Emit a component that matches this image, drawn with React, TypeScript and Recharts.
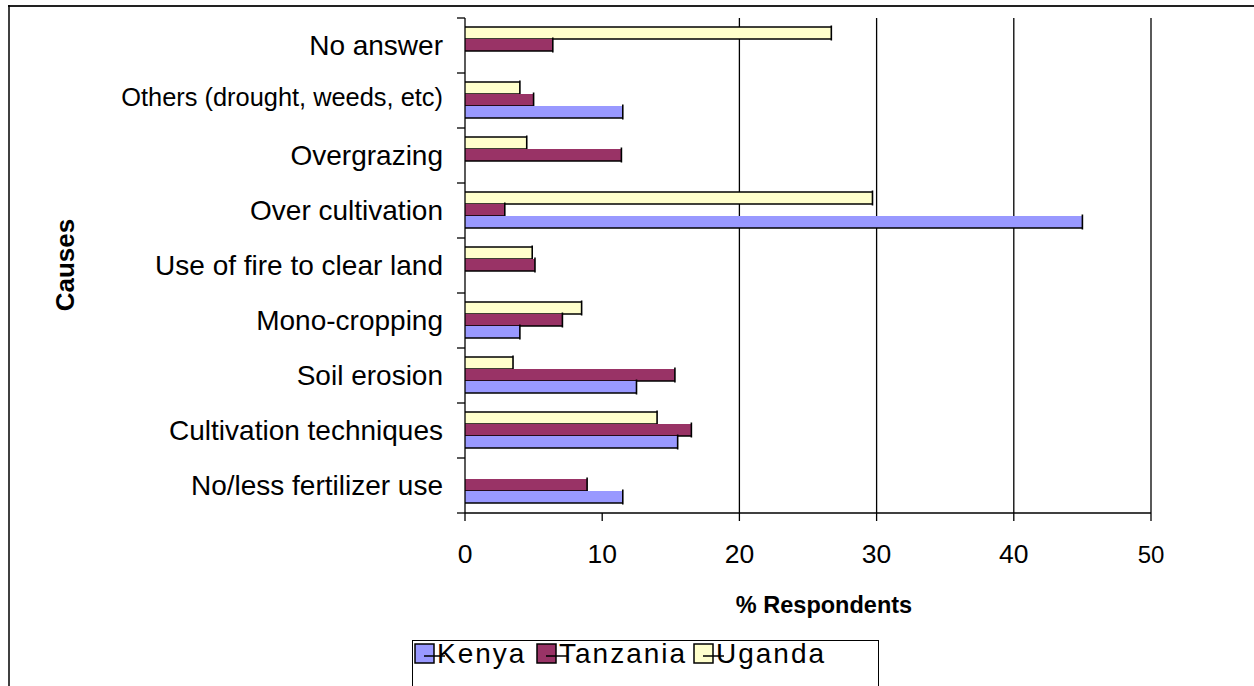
import React from "react";
import { BarChart, Bar, XAxis, YAxis, CartesianGrid } from "recharts";

const categories = [
  "No answer",
  "Others (drought, weeds, etc)",
  "Overgrazing",
  "Over cultivation",
  "Use of fire to clear land",
  "Mono-cropping",
  "Soil erosion",
  "Cultivation techniques",
  "No/less fertilizer use",
];
const kenya = [0, 11.5, 0, 45.0, 0, 4.0, 12.5, 15.5, 11.5];
const tanzania = [6.4, 5.0, 11.4, 2.9, 5.1, 7.1, 15.3, 16.5, 8.9];
const uganda = [26.7, 4.0, 4.5, 29.7, 4.9, 8.5, 3.5, 14.0, 0];
const xTicks = [0, 10, 20, 30, 40, 50];
const gridValues = [20, 30, 40, 50];

const series = [
  { key: "Kenya", values: kenya, color: "#9999FF" },
  { key: "Tanzania", values: tanzania, color: "#993366" },
  { key: "Uganda", values: uganda, color: "#FFFFCC" },
];

const data = categories.map((c, i) => ({
  cat: c,
  Kenya: kenya[i],
  Tanzania: tanzania[i],
  Uganda: uganda[i],
}));

const W = 1254;
const H = 686;
const PLOT_LEFT = 465;
const PLOT_TOP = 18;
const PLOT_RIGHT = 1151;
const PLOT_BOTTOM = 513;
const BAND = (PLOT_BOTTOM - PLOT_TOP) / categories.length;
const FONT = "'Liberation Sans', Arial, sans-serif";

const makeShape = (withTop: boolean) => (props: any) => {
  const { x, y, width, height, fill } = props;
  if (!width || width <= 0) return <g />;
  return (
    <g>
      <rect x={x} y={y} width={width} height={height} fill={fill} />
      {withTop && <line x1={x} x2={x + width} y1={y} y2={y} stroke="#000" strokeWidth={1.5} />}
      <line x1={x} x2={x + width} y1={y + height} y2={y + height} stroke="#000" strokeWidth={1.5} />
      <line x1={x + width} x2={x + width} y1={y - 1.5} y2={y + height + 1.5} stroke="#000" strokeWidth={1.6} />
    </g>
  );
};

const YTick = (props: any) => {
  const { y, payload, index } = props;
  const small = String(payload.value).startsWith("Others");
  return (
    <g>
      <text
        x={PLOT_LEFT - 22}
        y={y + (small ? -3 : 0)}
        dy="0.35em"
        textAnchor="end"
        fontFamily={FONT}
        fontSize={small ? 25.4 : 28}
        fill="#000"
      >
        {payload.value}
      </text>
      <line x1={PLOT_LEFT - 8} x2={PLOT_LEFT} y1={y - BAND / 2} y2={y - BAND / 2} stroke="#000" strokeWidth={1.3} />
      {index === categories.length - 1 && (
        <line x1={PLOT_LEFT - 8} x2={PLOT_LEFT} y1={y + BAND / 2} y2={y + BAND / 2} stroke="#000" strokeWidth={1.3} />
      )}
    </g>
  );
};

const XTick = (props: any) => {
  const { x, payload } = props;
  const last = payload.value === xTicks[xTicks.length - 1];
  return (
    <text
      x={x}
      y={PLOT_BOTTOM + 50}
      textAnchor="middle"
      fontFamily={FONT}
      fontSize={last ? 24 : 26.5}
      fill="#000"
    >
      {payload.value}
    </text>
  );
};

const gridGen = (args: any) => {
  const scale = args && args.xAxis && args.xAxis.scale;
  if (!scale) return [];
  const fn = typeof scale === "function" ? scale : scale.map ? (v: number) => scale.map(v) : null;
  if (!fn) return [];
  return gridValues.map((v) => fn(v));
};

export default function App() {
  const legendX = [415, 537, 694];
  return (
    <div style={{ position: "absolute", left: 0, top: 0, width: W, height: H, background: "#fff", overflow: "hidden" }}>
      <BarChart
        width={W}
        height={H}
        data={data}
        layout="vertical"
        margin={{ top: PLOT_TOP, right: W - PLOT_RIGHT, left: 0, bottom: H - PLOT_BOTTOM - 60 }}
        barCategoryGap={9}
        barGap={0}
      >
        <CartesianGrid
          horizontal={false}
          vertical={true}
          stroke="#000"
          strokeWidth={1.3}
          verticalCoordinatesGenerator={gridGen}
        />
        <XAxis
          type="number"
          domain={[0, 50]}
          ticks={xTicks}
          height={60}
          tick={<XTick />}
          tickSize={8}
          axisLine={{ stroke: "#000", strokeWidth: 1.3 }}
          tickLine={{ stroke: "#000", strokeWidth: 1.3 }}
          interval={0}
        />
        <YAxis
          type="category"
          dataKey="cat"
          width={PLOT_LEFT}
          tick={<YTick />}
          tickLine={false}
          axisLine={{ stroke: "#000", strokeWidth: 1.3 }}
          interval={0}
        />
        <Bar dataKey="Uganda" fill="#FFFFCC" isAnimationActive={false} shape={makeShape(true)} />
        <Bar dataKey="Tanzania" fill="#993366" isAnimationActive={false} shape={makeShape(false)} />
        <Bar dataKey="Kenya" fill="#9999FF" isAnimationActive={false} shape={makeShape(false)} />
      </BarChart>
      <svg
        width={W}
        height={H}
        style={{ position: "absolute", left: 0, top: 0, pointerEvents: "none" }}
      >
        <line x1={8} x2={W} y1={6} y2={6} stroke="#222" strokeWidth={2} />
        <line x1={9} x2={9} y1={5} y2={H} stroke="#000" strokeWidth={1.5} />
        <text
          transform={`translate(74, 265) rotate(-90)`}
          textAnchor="middle"
          fontFamily={FONT}
          fontWeight="bold"
          fontSize={26}
          fill="#000"
        >
          Causes
        </text>
        <text x={824} y={613} textAnchor="middle" fontFamily={FONT} fontWeight="bold" fontSize={23.5} fill="#000">
          % Respondents
        </text>
        <rect x={412.5} y={640.5} width={466} height={80} fill="none" stroke="#000" strokeWidth={1} />
        {series.map((s, i) => (
          <g key={s.key}>
            <rect x={legendX[i]} y={644} width={19} height={19} fill={s.color} stroke="#000" strokeWidth={1.5} />
            <line x1={legendX[i] + 9} x2={legendX[i] + 30} y1={656} y2={656} stroke="#000" strokeWidth={1.5} />
            <text x={legendX[i] + 22} y={663} fontFamily={FONT} fontSize={28} letterSpacing={2} fill="#000">
              {s.key}
            </text>
          </g>
        ))}
      </svg>
    </div>
  );
}
